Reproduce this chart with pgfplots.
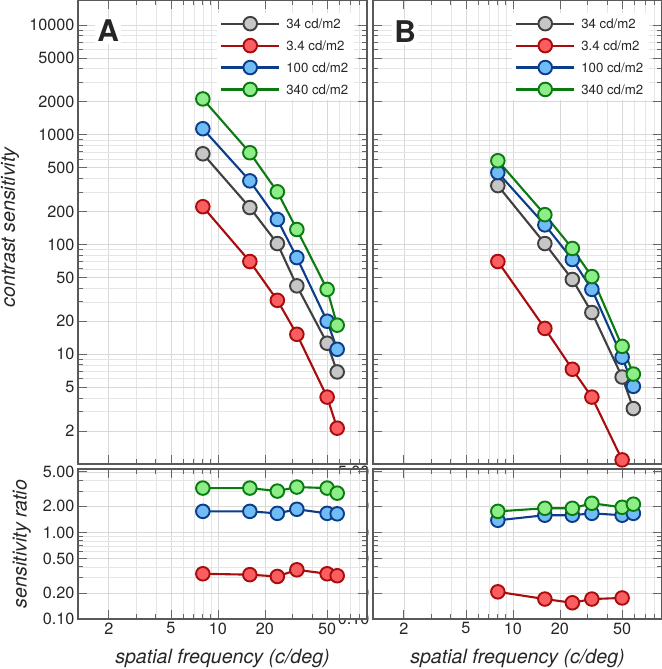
\documentclass[border=0pt]{standalone}
\usepackage{pgfplots}
\pgfplotsset{compat=1.18}
\usepackage{fontspec}
\setmainfont{TeX Gyre Heros}
\definecolor{cGd}{HTML}{404040}
\definecolor{cGf}{HTML}{C6C6C6}
\definecolor{cRd}{HTML}{A80C0C}
\definecolor{cRf}{HTML}{FA5E60}
\definecolor{cBd}{HTML}{0C3D8A}
\definecolor{cBf}{HTML}{70BDF5}
\definecolor{cVd}{HTML}{0B7A10}
\definecolor{cVf}{HTML}{8DEE88}
\pgfplotsset{
  legend image code/.code={\draw[mark repeat=2,mark phase=2,#1] plot coordinates {(0bp,0bp) (29bp,0bp) (58bp,0bp)};},
  every axis legend/.style={draw=none, fill=white, font=\fontsize{13.3}{14}\selectfont, text=black!85,
      at={(0.481,0.973)}, anchor=north west, row sep=6bp, column sep=3bp, inner sep=3bp, cells={anchor=west}},
  every tick label/.append style={font=\fontsize{16.3}{16.3}\selectfont, text=black!85},
  every axis label/.append style={font=\fontsize{19.7}{19.7}\selectfont\itshape, text=black!85},
  every axis/.append style={axis line style={black!65, line width=1.1bp},
    major tick length=9bp, minor tick length=5bp,
    major grid style={black!15, line width=0.6bp},
    minor grid style={black!10, line width=0.5bp}},
  every tick/.style={black!60, line width=0.8bp},
}
\begin{document}
\begin{tikzpicture}
\useasboundingbox (0,0) rectangle (662bp,669bp);
% ---------------- Panel B (drawn first) ----------------
\begin{axis}[at={(373bp,205bp)}, anchor=south west,
  scale only axis, width=289bp, height=464bp, xmode=log, ymode=log,
  xmin=1.27, xmax=90, ymin=1, ymax=16900, clip=false, grid=both,
  xtick={2,5,10,20,50}, minor xtick={3,4,6,7,8,9,30,40,60,70,80,90},
  xticklabels={},
  ytick={2,5,10,20,50,100,200,500,1000,2000,5000,10000},
  yticklabels={},
  minor ytick={3,4,6,7,8,9,30,40,60,70,80,90,300,400,600,700,800,900,3000,4000,6000,7000,8000,9000}]
\addplot[draw=cGd, line width=2.1bp, mark=*, mark size=6.8bp, mark options={fill=cGf, draw=cGd, line width=1.9bp, solid}] coordinates {(8,344)(16,102)(24,48)(32,24)(50,6.2)(59,3.2)};
\addlegendentry{34 cd/m2}
\addplot[draw=cRd, line width=2.1bp, mark=*, mark size=6.8bp, mark options={fill=cRf, draw=cRd, line width=1.9bp, solid}] coordinates {(8,70)(16,17.2)(24,7.3)(32,4.07)(50,1.09)};
\addlegendentry{3.4 cd/m2}
\addplot[draw=cBd, line width=2.1bp, mark=*, mark size=6.8bp, mark options={fill=cBf, draw=cBd, line width=1.9bp, solid}] coordinates {(8,452)(16,151)(24,73)(32,39)(50,9.4)(59,5.1)};
\addlegendentry{100 cd/m2}
\addplot[draw=cVd, line width=2.1bp, mark=*, mark size=6.8bp, mark options={fill=cVf, draw=cVd, line width=1.9bp, solid}] coordinates {(8,580)(16,187)(24,92)(32,51)(50,11.8)(59,6.6)};
\addlegendentry{340 cd/m2}
\node[font=\bfseries\fontsize{30}{30}\selectfont, fill=white, inner sep=2bp, text=black!85] at (rel axis cs:0.111,0.931) {B};
\end{axis}
\begin{axis}[at={(373bp,50bp)}, anchor=south west,
  scale only axis, width=289bp, height=150bp, xmode=log, ymode=log,
  xmin=1.27, xmax=90, ymin=0.1, ymax=5.4, clip=false, grid=both,
  xtick={2,5,10,20,50}, minor xtick={3,4,6,7,8,9,30,40,60,70,80,90},
  xticklabels={2,5,10,20,50},
  ytick={0.1,0.2,0.5,1,2,5},
  yticklabels={0.10,0.20,0.50,1.00,2.00,5.00},
  minor ytick={0.3,0.4,0.6,0.7,0.8,0.9,3,4},
  xlabel={spatial frequency (c/deg)},
  xlabel style={at={(axis description cs:0.5,-0.26)}, anchor=center}]
\addplot[draw=cRd, line width=2.1bp, mark=*, mark size=6.8bp, mark options={fill=cRf, draw=cRd, line width=1.9bp, solid}] coordinates {(8,0.206)(16,0.17)(24,0.154)(32,0.17)(50,0.175)};
\addplot[draw=cBd, line width=2.1bp, mark=*, mark size=6.8bp, mark options={fill=cBf, draw=cBd, line width=1.9bp, solid}] coordinates {(8,1.38)(16,1.58)(24,1.58)(32,1.66)(50,1.58)(59,1.66)};
\addplot[draw=cVd, line width=2.1bp, mark=*, mark size=6.8bp, mark options={fill=cVf, draw=cVd, line width=1.9bp, solid}] coordinates {(8,1.75)(16,1.9)(24,1.9)(32,2.17)(50,1.95)(59,2.12)};
\end{axis}
% ---------------- Panel A ----------------
\begin{axis}[at={(78bp,205bp)}, anchor=south west,
  axis background/.style={fill=white},
  scale only axis, width=289bp, height=464bp, xmode=log, ymode=log,
  xmin=1.27, xmax=90, ymin=1, ymax=16900, clip=false, grid=both,
  xtick={2,5,10,20,50}, minor xtick={3,4,6,7,8,9,30,40,60,70,80,90},
  xticklabels={},
  ytick={2,5,10,20,50,100,200,500,1000,2000,5000,10000},
  yticklabels={2,5,10,20,50,100,200,500,1000,2000,5000,10000},
  minor ytick={3,4,6,7,8,9,30,40,60,70,80,90,300,400,600,700,800,900,3000,4000,6000,7000,8000,9000},
  ylabel={contrast sensitivity},
  ylabel style={at={(axis description cs:-0.235,0.51)}, anchor=center}]
\addplot[draw=cGd, line width=2.1bp, mark=*, mark size=6.8bp, mark options={fill=cGf, draw=cGd, line width=1.9bp, solid}] coordinates {(8,671)(16,217)(24,102)(32,42)(50,12.6)(58,6.9)};
\addlegendentry{34 cd/m2}
\addplot[draw=cRd, line width=2.1bp, mark=*, mark size=6.8bp, mark options={fill=cRf, draw=cRd, line width=1.9bp, solid}] coordinates {(8,221)(16,70)(24,31)(32,15.2)(50,4.07)(58,2.12)};
\addlegendentry{3.4 cd/m2}
\addplot[draw=cBd, line width=2.1bp, mark=*, mark size=6.8bp, mark options={fill=cBf, draw=cBd, line width=1.9bp, solid}] coordinates {(8,1135)(16,380)(24,169)(32,76)(50,20)(58,11.1)};
\addlegendentry{100 cd/m2}
\addplot[draw=cVd, line width=2.1bp, mark=*, mark size=6.8bp, mark options={fill=cVf, draw=cVd, line width=1.9bp, solid}] coordinates {(8,2120)(16,686)(24,302)(32,137)(50,39)(58,18.4)};
\addlegendentry{340 cd/m2}
\node[font=\bfseries\fontsize{30}{30}\selectfont, fill=white, inner sep=2bp, text=black!85] at (rel axis cs:0.104,0.933) {A};
\end{axis}
\begin{axis}[at={(78bp,50bp)}, anchor=south west,
  axis background/.style={fill=white},
  scale only axis, width=289bp, height=150bp, xmode=log, ymode=log,
  xmin=1.27, xmax=90, ymin=0.1, ymax=5.4, clip=false, grid=both,
  xtick={2,5,10,20,50}, minor xtick={3,4,6,7,8,9,30,40,60,70,80,90},
  xticklabels={2,5,10,20,50},
  ytick={0.1,0.2,0.5,1,2,5},
  yticklabels={0.10,0.20,0.50,1.00,2.00,5.00},
  minor ytick={0.3,0.4,0.6,0.7,0.8,0.9,3,4},
  xlabel={spatial frequency (c/deg)},
  xlabel style={at={(axis description cs:0.5,-0.26)}, anchor=center},
  ylabel={sensitivity ratio},
  ylabel style={at={(axis description cs:-0.194,0.5)}, anchor=center}]
\addplot[draw=cRd, line width=2.1bp, mark=*, mark size=6.8bp, mark options={fill=cRf, draw=cRd, line width=1.9bp, solid}] coordinates {(8,0.333)(16,0.325)(24,0.31)(32,0.37)(50,0.333)(58,0.316)};
\addplot[draw=cBd, line width=2.1bp, mark=*, mark size=6.8bp, mark options={fill=cBf, draw=cBd, line width=1.9bp, solid}] coordinates {(8,1.75)(16,1.75)(24,1.66)(32,1.85)(50,1.66)(58,1.64)};
\addplot[draw=cVd, line width=2.1bp, mark=*, mark size=6.8bp, mark options={fill=cVf, draw=cVd, line width=1.9bp, solid}] coordinates {(8,3.25)(16,3.25)(24,3.0)(32,3.34)(50,3.25)(58,2.84)};
\end{axis}
\end{tikzpicture}
\end{document}
